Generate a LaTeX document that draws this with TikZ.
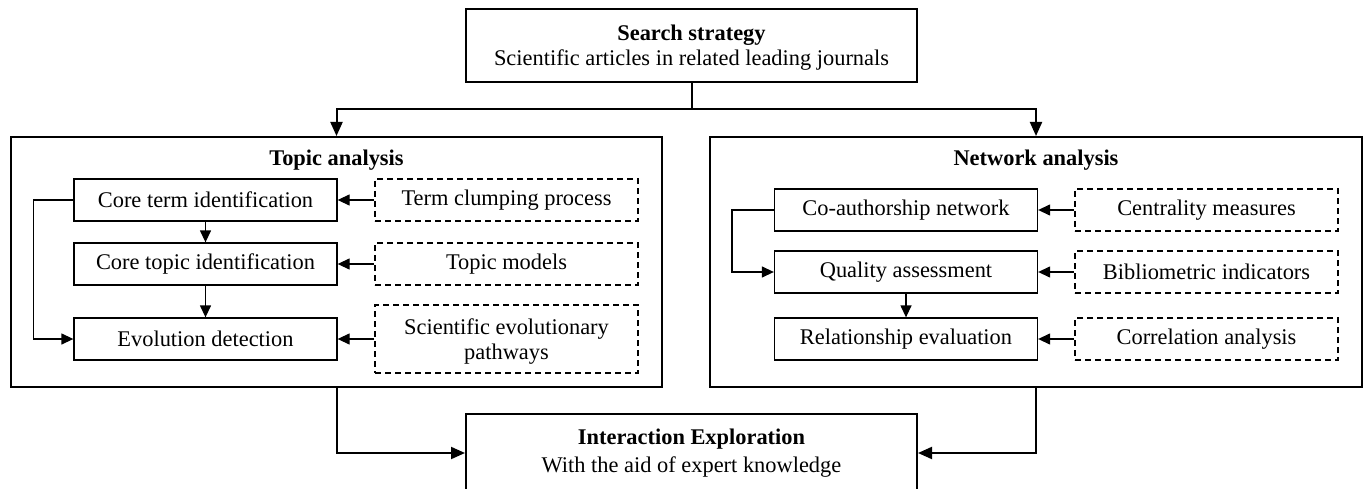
\documentclass[tikz,border=0pt]{standalone}
\usepackage{fontspec}
\setmainfont{Liberation Serif}
\usetikzlibrary{arrows.meta,positioning}

\begin{document}
\begin{tikzpicture}[x=1pt,y=-1pt,
  mainbox/.style={draw,line width=2pt,align=center,inner sep=0pt,
    font=\fontsize{22.4}{25}\selectfont},
  stepbox/.style={draw,line width=1.3pt,minimum width=263pt,minimum height=42pt,
    align=center,inner sep=0pt,font=\fontsize{22.4}{25}\selectfont},
  methodbox/.style={stepbox,dash pattern=on 6pt off 4pt},
  paneltitle/.style={font=\fontsize{22.4}{25}\selectfont\bfseries},
  flowarrow/.style={-{Triangle[length=14pt,width=12pt]},line width=2pt},
  steparrow/.style={-{Triangle[length=12pt,width=11pt]},line width=1.3pt}
]
  \useasboundingbox (0,0) rectangle (1367,489);

  % Search strategy
  \node[mainbox,minimum width=451pt,minimum height=73pt,text depth=0pt] (search) at (691.5,45.5) {
    \textbf{Search strategy}\\
    Scientific articles in related leading journals};

  % Two analysis panels
  \node[mainbox,minimum width=651pt,minimum height=250pt] (topic) at (336.5,262) {};
  \node[mainbox,minimum width=652pt,minimum height=250pt] (network) at (1036,262) {};
  \node[paneltitle] (topictitle) at (336.5,160) {Topic analysis};
  \node[paneltitle] (networktitle) at (1036,160) {Network analysis};

  % Topic analysis steps
  \node[stepbox] (coreterm) at (205.5,200) {Core term identification};
  \node[stepbox] (coretopic) at (205.5,264) {Core topic identification};
  \node[stepbox] (evolution) at (205.5,339) {Evolution detection};
  \node[methodbox] (clumping) at (506.5,200) {Term clumping process};
  \node[methodbox] (models) at (506.5,264) {Topic models};
  \node[methodbox,minimum height=68pt,text depth=0pt] (pathways) at (506.5,339) {
    Scientific evolutionary\\pathways};

  % Network analysis steps
  \node[stepbox] (coauthor) at (906,210) {Co-authorship network};
  \node[stepbox] (quality) at (906,272) {Quality assessment};
  \node[stepbox] (relation) at (906,339) {Relationship evaluation};
  \node[methodbox] (centrality) at (1206.5,210) {Centrality measures};
  \node[methodbox] (biblio) at (1206.5,272) {Bibliometric indicators};
  \node[methodbox] (correlation) at (1206.5,339) {Correlation analysis};

  % Interaction exploration
  \node[mainbox,minimum width=451pt,minimum height=78pt,
    font=\fontsize{22.4}{27.5}\selectfont] (interact) at (691.5,453) {
    \textbf{Interaction Exploration}\\
    With the aid of expert knowledge};

  % Main flow
  \draw[line width=2pt] (search.south) -- ++(0,26) coordinate (split);
  \draw[flowarrow] (split) -| (topic.north);
  \draw[flowarrow] (split) -| (network.north);
  \draw[flowarrow] (topic.south) |- (interact.west);
  \draw[flowarrow] (network.south) |- (interact.east);

  % Topic analysis connectors
  \draw[steparrow] (clumping) -- (coreterm);
  \draw[steparrow] (models) -- (coretopic);
  \draw[steparrow] (pathways) -- (evolution);
  \draw[steparrow] (coreterm) -- (coretopic);
  \draw[steparrow] (coretopic) -- (evolution);
  \draw[steparrow] (coreterm.west) -- ++(-40,0) |- (evolution.west);

  % Network analysis connectors
  \draw[steparrow] (centrality) -- (coauthor);
  \draw[steparrow] (biblio) -- (quality);
  \draw[steparrow] (correlation) -- (relation);
  \draw[steparrow] (quality) -- (relation);
  \draw[steparrow] (coauthor.west) -- ++(-42,0) |- (quality.west);
\end{tikzpicture}
\end{document}
